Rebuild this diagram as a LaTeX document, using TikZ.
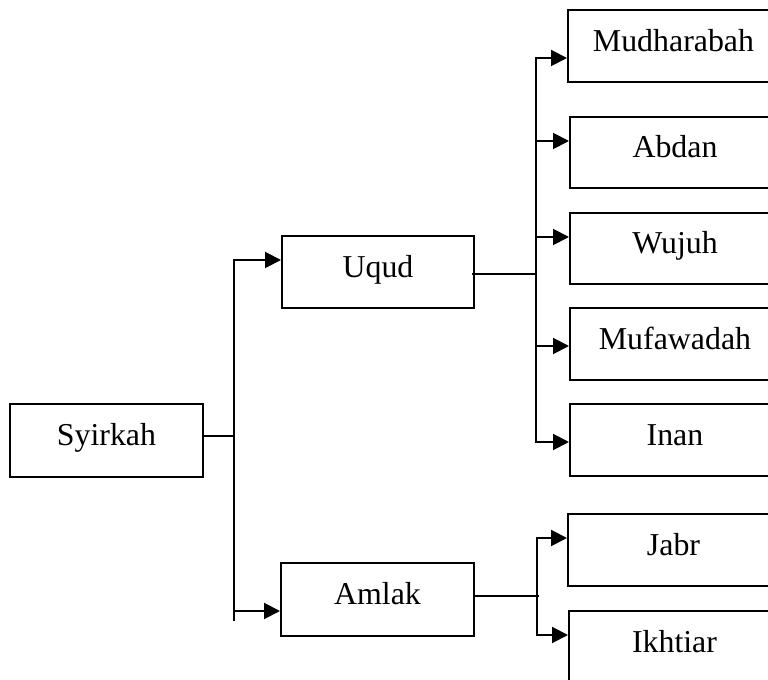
\documentclass[tikz,border=0pt]{standalone}
\usepackage{fontspec}
\setmainfont{Liberation Serif}
\usetikzlibrary{arrows.meta}

\tikzset{
  line/.style={line width=1.5pt, line cap=rect},
  arr/.style={line width=1.5pt, -{Triangle[length=12pt,width=12pt]}},
  box/.style 2 args={draw, line width=1.5pt, rectangle, inner sep=0pt,
    minimum width=#1*0.75pt, minimum height=#2*0.75pt,
    font=\fontsize{23.9}{28}\selectfont, text height=16.7pt, text depth=9.1pt},
}

\begin{document}
\begin{tikzpicture}[x=0.75pt, y=-0.75pt]
  \useasboundingbox (0,0) rectangle (768,680);
  \clip (0,0) rectangle (768,680);

  % boxes
  \node[box={193}{73}] (syirkah) at (106.5,440.5) {Syirkah};
  \node[box={192}{72}] (uqud) at (378,272) {Uqud};
  \node[box={193}{73}] (amlak) at (377.5,599.5) {Amlak};

  \node[box={211}{72}] (mudharabah) at (673.5,46) {Mudharabah};
  \node[box={210}{71}] (abdan) at (675,152.5) {Abdan};
  \node[box={210}{71}] (wujuh) at (675,248.5) {Wujuh};
  \node[box={210}{72}] (mufawadah) at (675,344) {Mufawadah};
  \node[box={210}{72}] (inan) at (675,440) {Inan};
  \node[box={211}{72}] (jabr) at (673.5,550) {Jabr};
  \node[box={211}{73}] (ikhtiar) at (674.5,647.5) {Ikhtiar};

  % first branching: Syirkah -> Uqud / Amlak
  \coordinate (j1) at (234,436);
  \coordinate (t1) at (234,260);
  \coordinate (b1) at (234,620);
  \coordinate (a1) at (234,611);
  \draw[line] (syirkah.east |- j1) -- (j1);
  \draw[line] (t1) -- (b1);
  \draw[arr] (t1) -- (uqud.west |- t1);
  \draw[arr] (a1) -- (amlak.west |- a1);

  % second branching: Uqud -> five kinds
  \coordinate (j2) at (536,274);
  \coordinate (t2) at (536,58);
  \coordinate (k2) at (536,141);
  \coordinate (w2) at (536,237);
  \coordinate (m2) at (536,346);
  \coordinate (b2) at (536,442);
  \draw[line] ([xshift=-1.5pt]uqud.east |- j2) -- (j2);
  \draw[line] (t2) -- (b2);
  \draw[arr] (t2) -- (mudharabah.west |- t2);
  \draw[arr] (k2) -- (abdan.west |- k2);
  \draw[arr] (w2) -- (wujuh.west |- w2);
  \draw[arr] (m2) -- (mufawadah.west |- m2);
  \draw[arr] (b2) -- (inan.west |- b2);

  % third branching: Amlak -> Jabr / Ikhtiar
  \coordinate (j3) at (538,596);
  \coordinate (t3) at (537,538);
  \coordinate (b3) at (537,635);
  \draw[line] (amlak.east |- j3) -- (j3);
  \draw[line] (t3) -- (b3);
  \draw[arr] (t3) -- (jabr.west |- t3);
  \draw[arr] (b3) -- (ikhtiar.west |- b3);
\end{tikzpicture}
\end{document}
